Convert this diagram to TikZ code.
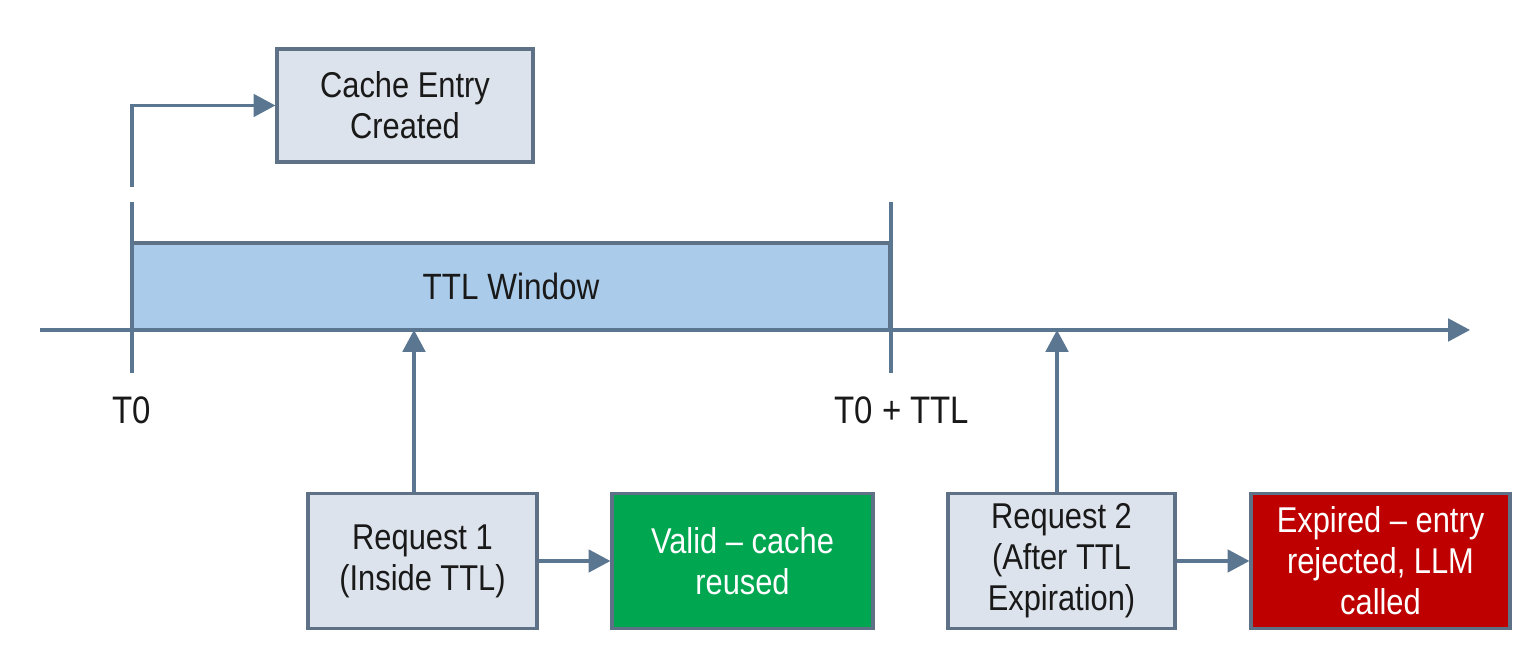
\documentclass[tikz,border=0pt]{standalone}
\usepackage{fontspec}
\setmainfont{Liberation Sans}[FakeStretch=0.86]
\usetikzlibrary{arrows.meta}
\definecolor{linec}{HTML}{5B7690}
\definecolor{boxfill}{HTML}{DDE3EC}
\definecolor{boxdraw}{HTML}{5E7186}
\definecolor{ttlfill}{HTML}{AACBEA}
\definecolor{okgreen}{HTML}{00A650}
\definecolor{badred}{HTML}{BF0000}
\tikzset{
  x=0.01cm, y=-0.01cm,
  conn/.style={draw=linec, line width=0.9pt, -{Triangle[length=6.2pt,width=6.4pt]}},
  tick/.style={draw=linec, line width=0.9pt},
  gbox/.style={draw=boxdraw, line width=0.9pt, fill=boxfill, align=center, inner sep=0pt,
    font=\fontsize{10.2pt}{11.7pt}\selectfont, text=black!90},
  cbox/.style={gbox, text=white},
  lbl/.style={font=\fontsize{10.9pt}{12pt}\selectfont, text=black!90, inner sep=0pt}
}
\begin{document}
\begin{tikzpicture}
\useasboundingbox (0,0) rectangle (1536,659);
% TTL window
\node[draw=boxdraw, line width=0.9pt, fill=ttlfill, minimum width=758*0.01cm, minimum height=87*0.01cm,
  inner sep=0pt, font=\fontsize{10.4pt}{11.7pt}\selectfont, text=black!90] (ttl) at (511,286.5) {TTL Window};
% axis
\coordinate (axs) at (40,330);
\coordinate (axe) at (1470,330);
\draw[conn] (axs) -- (axe);
% ticks
\coordinate (t0top) at (132,202);
\coordinate (t0bot) at (132,373);
\coordinate (t1top) at (891,202);
\coordinate (t1bot) at (891,373);
\draw[tick] (t0top) -- (t0bot);
\draw[tick] (t1top) -- (t1bot);
\node[lbl] (t0lbl) at (132,410) {T0};
\node[lbl] (t1lbl) at (902,410) {T0 + TTL};
% cache entry
\node[gbox, minimum width=256*0.01cm, minimum height=113*0.01cm] (cache) at (405,105.5) {Cache Entry\\Created};
\coordinate (cstart) at (132,187);
\draw[conn] (cstart) |- (cache.west);
% requests
\node[gbox, minimum width=229*0.01cm, minimum height=135*0.01cm] (req1) at (422.5,561) {Request 1\\(Inside TTL)};
\node[cbox, fill=okgreen, minimum width=261*0.01cm, minimum height=135*0.01cm] (valid) at (742.5,561) {Valid -- cache\\reused};
\node[gbox, minimum width=227*0.01cm, minimum height=135*0.01cm] (req2) at (1061.5,561) {Request 2\\(After TTL\\Expiration)};
\node[cbox, fill=badred, minimum width=259*0.01cm, minimum height=135*0.01cm] (exp) at (1380.5,561) {Expired -- entry\\rejected, LLM\\called};
\coordinate (r1hit) at (414,330);
\coordinate (r2hit) at (1057,330);
\draw[conn] (req1.north -| r1hit) -- (r1hit);
\draw[conn] (req2.north -| r2hit) -- (r2hit);
\draw[conn] (req1.east) -- (valid.west);
\draw[conn] (req2.east) -- (exp.west);
\end{tikzpicture}
\end{document}
